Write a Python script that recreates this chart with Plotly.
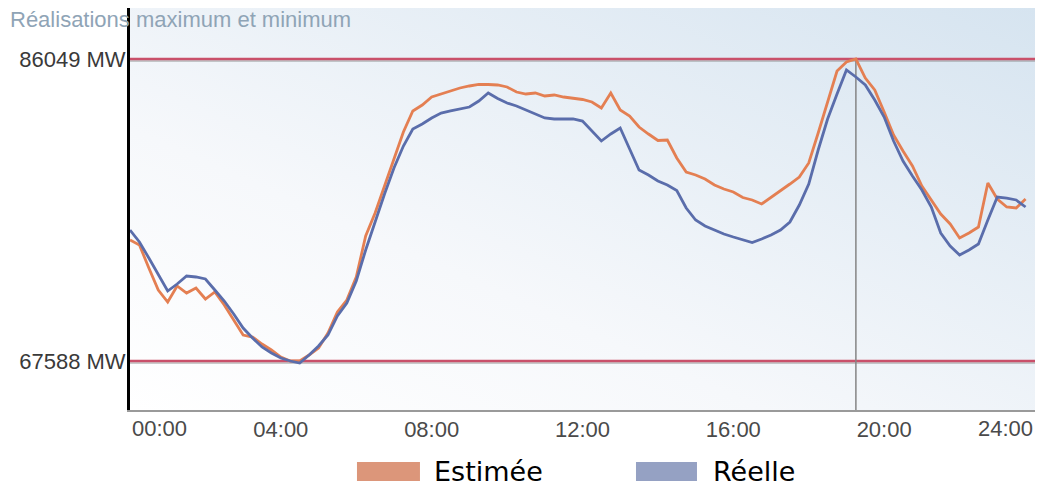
import base64
import plotly.graph_objects as go

# ---- data (MW, one value every 15 minutes from 00:00) ----
estimee = [74985, 74679, 73273, 71928, 71195, 72173, 71745, 72051, 71378, 71806,
           71011, 70094, 69177, 69055, 68627, 68260, 67833, 67588, 67588, 67955,
           68383, 69300, 70583, 71317, 72723, 75229, 76635, 78286, 79997, 81587,
           82871, 83237, 83726, 83910, 84093, 84277, 84399, 84491, 84491, 84460,
           84338, 84032, 83910, 83971, 83788, 83849, 83726, 83635, 83574, 83421,
           83054, 83971, 82932, 82565, 81892, 81465, 81067, 81098, 79997, 79142,
           78958, 78714, 78347, 78102, 77919, 77583, 77430, 77185, 77583, 77980,
           78408, 78836, 79692, 81526, 83421, 85316, 85866, 86049, 84888, 84154,
           82809, 81403, 80425, 79508, 78286, 77430, 76574, 75963, 75107, 75413,
           75779, 78469, 77491, 77002, 76941, 77491]

reelle = [75596, 74863, 73884, 72845, 71867, 72295, 72784, 72723, 72601, 71928,
          71256, 70461, 69605, 68994, 68444, 68077, 67771, 67588, 67466, 67955,
          68505, 69177, 70339, 71134, 72478, 74373, 76146, 77797, 79386, 80731,
          81770, 82076, 82443, 82748, 82871, 82993, 83115, 83482, 83971, 83635,
          83360, 83176, 82932, 82687, 82443, 82382, 82382, 82382, 82259, 81648,
          81037, 81465, 81831, 80548, 79264, 78958, 78591, 78347, 78011, 76941,
          76207, 75841, 75596, 75351, 75168, 74985, 74832, 75046, 75290, 75596,
          76085, 77124, 78408, 80486, 82382, 83910, 85377, 84949, 84460, 83543,
          82504, 81037, 79814, 78897, 78041, 77002, 75413, 74618, 74068, 74373,
          74740, 76207, 77613, 77552, 77430, 77002]

hours = [i * 0.25 for i in range(len(estimee))]

max_value = 86049
min_value = 67588
max_time = 19.25

y_range = [64593, 89167]

tick_hours = [0, 4, 8, 12, 16, 20, 24]
tick_labels = ["00:00", "04:00", "08:00", "12:00", "16:00", "20:00", "24:00"]

series_names = ["Estimée", "Réelle"]
line_colors = ["#e47f52", "#5a6dab"]
swatch_colors = ["#dc967a", "#95a1c3"]

# ---- figure ----
fig = go.Figure()
for name, vals, col in zip(series_names, [estimee, reelle], line_colors):
    fig.add_trace(go.Scatter(x=hours, y=vals, mode="lines", name=name,
                             line=dict(color=col, width=2.8), hoverinfo="skip"))

svg = ('<svg xmlns="http://www.w3.org/2000/svg" width="100" height="100" '
       'viewBox="0 0 100 100" preserveAspectRatio="none"><defs>'
       '<linearGradient id="g" x1="0" y1="1" x2="1" y2="0">'
       '<stop offset="0" stop-color="#ffffff"/>'
       '<stop offset="0.35" stop-color="#f6f8fb"/>'
       '<stop offset="1" stop-color="#d6e4f0"/>'
       '</linearGradient></defs>'
       '<rect width="100" height="100" fill="url(#g)"/></svg>')
src = "data:image/svg+xml;base64," + base64.b64encode(svg.encode()).decode()
fig.add_layout_image(dict(source=src, xref="paper", yref="paper", x=0, y=1,
                          sizex=1, sizey=1, xanchor="left", yanchor="top",
                          sizing="stretch", layer="below"))

# max / min reference lines
for v in [max_value, min_value]:
    fig.add_shape(type="line", xref="paper", x0=0, x1=1, yref="y",
                  ysizemode="pixel", yanchor=v, y0=-2, y1=-2,
                  line=dict(color="rgba(130,130,130,0.55)", width=1.5), layer="below")
    fig.add_shape(type="line", xref="paper", x0=0, x1=1, y0=v, y1=v, yref="y",
                  line=dict(color="#c9506a", width=2.4), layer="below")

# vertical marker at the max
fig.add_shape(type="line", x0=max_time, x1=max_time, xref="x",
              y0=max_value, y1=y_range[0], yref="y",
              line=dict(color="#858585", width=1.5), layer="below")

tick_font = dict(family="Liberation Sans, Arial, sans-serif", size=22, color="#4a4a4a")

# end tick labels kept inside plot width
fig.add_annotation(text=tick_labels[0], x=tick_hours[0], xref="x", y=0, yref="paper",
                   xanchor="left", yanchor="top", yshift=-4, showarrow=False, font=tick_font)
fig.add_annotation(text=tick_labels[-1], x=tick_hours[-1], xref="x", y=0, yref="paper",
                   xanchor="right", yanchor="top", yshift=-4, showarrow=False, font=tick_font)

# legend (custom swatches)
legend_font = dict(family="DejaVu Sans, sans-serif", size=27, color="#000000")
leg = [(0.2508, 0.3204, 0.3337), (0.5591, 0.6265, 0.6420)]
for (x0, x1, xt), name, col in zip(leg, series_names, swatch_colors):
    fig.add_shape(type="rect", xref="paper", yref="paper", x0=x0, x1=x1,
                  y0=-0.1766, y1=-0.1294, fillcolor=col, line=dict(width=0))
    fig.add_annotation(text=name, xref="paper", yref="paper", x=xt, y=-0.1530,
                       xanchor="left", yanchor="middle", showarrow=False, font=legend_font)

fig.update_layout(
    width=1037, height=487,
    margin=dict(l=130, r=2, t=8, b=77),
    paper_bgcolor="white", plot_bgcolor="white",
    showlegend=False,
    title=dict(text="Réalisations maximum et minimum", xref="container", yref="container",
               x=10 / 1037, xanchor="left", y=1 - 19 / 487, yanchor="middle",
               font=dict(family="Liberation Sans, Arial, sans-serif", size=22, color="#8fa4b6")),
    xaxis=dict(range=[0, 24], tickvals=tick_hours[1:-1], ticktext=tick_labels[1:-1],
               showgrid=False, zeroline=False, showline=True, linecolor="#9a9a9a",
               linewidth=2, ticks="", tickfont=tick_font, ticklabelstandoff=-1),
    yaxis=dict(range=y_range, tickvals=[min_value, max_value],
               ticktext=[f"{min_value} MW", f"{max_value} MW"],
               showgrid=False, zeroline=False, showline=True, linecolor="#000000",
               linewidth=3, ticks="", ticklabelstandoff=-3,
               tickfont=dict(family="Liberation Sans, Arial, sans-serif", size=22, color="#3a3a3a")),
)

fig.write_html("out.html", config={"displayModeBar": False, "staticPlot": True},
               post_script="document.body.style.margin='0';")
